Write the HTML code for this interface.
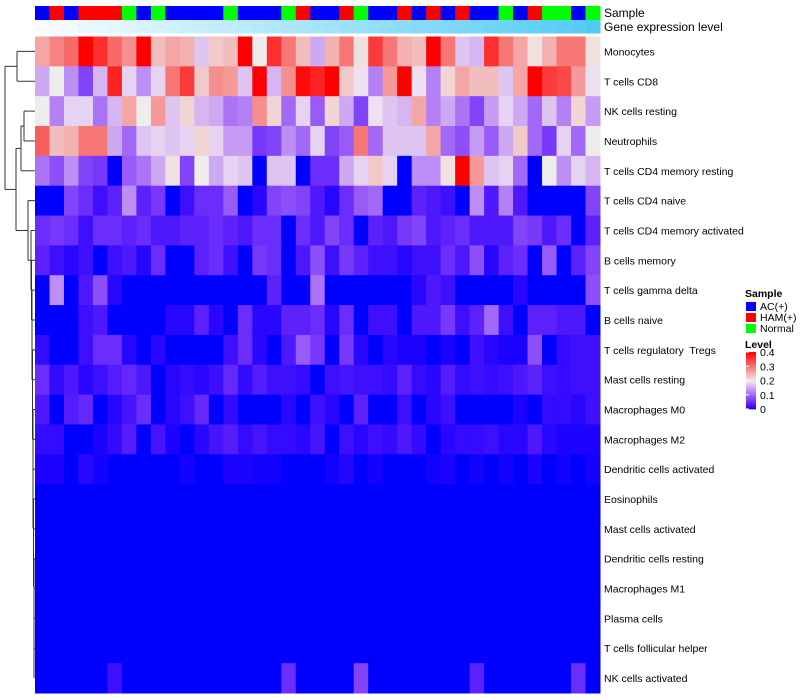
<!DOCTYPE html>
<html><head><meta charset="utf-8"><style>
html,body{margin:0;padding:0;background:#fff;}
svg{display:block;font-family:"Liberation Sans",sans-serif;}
#labels text{white-space:pre;}
</style></head><body>
<svg id="chart" width="800" height="700" viewBox="0 0 800 700" xmlns="http://www.w3.org/2000/svg">
<g id="dendro" stroke="#333" stroke-width="1" fill="none"></g>
<g id="cells"></g>
<g id="annot"></g>
<g id="labels" font-size="10.5" fill="#000"></g>
<text x="604" y="17" font-size="12">Sample</text>
<text x="604" y="31" font-size="12">Gene expression level</text>
<g font-size="10.5">
<text x="745" y="297" font-weight="bold">Sample</text>
<rect x="746" y="302" width="10" height="9" fill="#0000ff"/>
<text x="760" y="310">AC(+)</text>
<rect x="746" y="313" width="10" height="9" fill="#ff0000"/>
<text x="760" y="321">HAM(+)</text>
<rect x="746" y="324" width="10" height="9" fill="#00ff00"/>
<text x="760" y="332">Normal</text>
<text x="745" y="348" font-weight="bold">Level</text>
<g id="cbar"></g>
</g>
</svg>
<script>
const rowNames=["Monocytes","T cells CD8","NK cells resting","Neutrophils","T cells CD4 memory resting","T cells CD4 naive","T cells CD4 memory activated","B cells memory","T cells gamma delta","B cells naive","T cells regulatory  Tregs","Mast cells resting","Macrophages M0","Macrophages M2","Dendritic cells activated","Eosinophils","Mast cells activated","Dendritic cells resting","Macrophages M1","Plasma cells","T cells follicular helper","NK cells activated"];
const sampleGroups=["AC","HAM","AC","HAM","HAM","HAM","N","AC","N","AC","AC","AC","AC","N","AC","AC","AC","N","HAM","AC","AC","HAM","N","AC","AC","HAM","AC","HAM","AC","HAM","AC","AC","N","AC","HAM","N","N","AC","N"];
const geneLevel=[0.00,0.03,0.05,0.08,0.10,0.13,0.15,0.18,0.20,0.23,0.26,0.28,0.31,0.33,0.36,0.38,0.41,0.44,0.46,0.49,0.51,0.54,0.56,0.59,0.62,0.64,0.67,0.69,0.72,0.74,0.77,0.79,0.82,0.85,0.87,0.90,0.92,0.95,1.00];
const r0=[0.26,0.29,0.31,0.4,0.36,0.31,0.28,0.4,0.24,0.26,0.25,0.17,0.23,0.24,0.4,0.2,0.36,0.3,0.24,0.15,0.25,0.3,0.21,0.35,0.3,0.25,0.24,0.4,0.3,0.17,0.16,0.36,0.3,0.26,0.21,0.25,0.3,0.3,0.21];
const r1=[0.15,0.2,0.13,0.07,0.16,0.37,0.18,0.13,0.18,0.3,0.35,0.23,0.28,0.27,0.17,0.4,0.16,0.28,0.39,0.37,0.4,0.23,0.19,0.12,0.27,0.4,0.19,0.12,0.22,0.26,0.24,0.24,0.17,0.26,0.4,0.35,0.34,0.27,0.19];
const r2=[0.2,0.12,0.18,0.18,0.11,0.16,0.26,0.2,0.27,0.17,0.22,0.16,0.15,0.11,0.12,0.28,0.22,0.1,0.18,0.09,0.22,0.15,0.07,0.19,0.17,0.16,0.26,0.12,0.15,0.11,0.07,0.14,0.18,0.15,0.1,0.17,0.12,0.22,0.14];
const r3=[0.32,0.24,0.25,0.3,0.3,0.15,0.1,0.17,0.18,0.17,0.18,0.22,0.18,0.14,0.14,0.06,0.07,0.13,0.1,0.18,0.07,0.09,0.3,0.1,0.17,0.17,0.17,0.26,0.1,0.08,0.14,0.09,0.15,0.23,0.1,0.06,0.18,0.1,0.2];
const r4=[0.11,0.08,0.13,0.07,0.06,0,0.09,0.11,0.15,0.21,0.07,0.2,0.15,0.18,0.17,0,0.17,0.17,0,0.05,0.05,0.15,0.18,0.23,0.18,0,0.13,0.13,0.21,0.4,0.27,0.17,0.18,0.1,0,0.2,0.13,0.18,0.16];
const r5=[0,0,0.07,0.05,0.02,0.04,0.13,0.04,0.06,0,0.02,0.05,0.05,0.09,0,0.01,0.07,0.08,0.07,0.03,0.01,0.05,0.09,0.1,0,0,0.04,0.03,0.02,0,0.13,0.03,0.12,0.03,0,0,0,0,0.07];
const r6=[0.05,0.06,0.05,0.02,0.05,0.05,0.04,0.05,0.03,0.03,0.04,0.04,0.05,0.04,0.03,0.05,0.05,0,0.05,0.03,0.07,0.05,0,0.04,0.03,0.06,0.07,0.03,0.04,0.05,0.03,0.03,0.03,0.07,0.06,0.03,0.05,0,0.04];
const r7=[0.04,0.02,0.01,0.02,0,0.02,0.03,0.01,0.05,0,0,0.04,0.05,0.02,0,0.06,0.05,0,0.03,0.08,0.02,0.06,0.04,0.02,0.02,0.01,0.02,0.02,0.05,0.03,0.08,0.01,0.04,0.05,0,0.09,0,0.04,0.07];
const r8=[0,0.13,0,0.03,0.08,0.01,0,0,0,0,0,0,0,0,0,0,0.04,0,0,0.11,0,0,0,0,0,0,0.01,0.03,0.02,0,0,0,0,0.01,0,0,0,0,0.08];
const r9=[0,0,0,0.02,0.03,0,0,0,0,0.01,0.01,0.04,0.01,0,0.05,0.01,0.01,0.04,0.04,0.05,0.01,0.05,0,0.02,0.02,0,0.03,0.03,0.06,0.02,0.04,0.1,0.02,0,0.04,0.04,0.03,0.03,0];
const r10=[0.015,0,0,0.02,0.05,0.05,0.01,0,0.01,0,0,0,0,0.02,0.05,0.01,0,0.03,0.09,0.06,0,0.06,0.01,0,0.01,0.005,0.005,0,0.005,0,0.02,0.01,0.005,0.005,0.08,0,0.015,0.02,0.02];
const r11=[0.05,0.015,0.03,0.01,0.02,0.035,0.045,0.03,0,0.01,0.015,0.01,0.02,0.045,0.015,0.035,0.02,0.02,0.015,0,0.02,0.025,0.02,0.02,0.015,0.04,0.015,0.01,0.035,0.015,0.02,0.015,0.02,0.03,0.04,0.02,0.015,0.02,0.02];
const r12=[0.03,0,0.035,0.045,0,0.01,0.025,0.05,0,0.01,0.02,0.045,0,0.015,0,0,0,0.01,0,0.02,0.01,0,0.04,0,0,0.02,0,0.01,0.02,0,0,0,0,0.005,0,0.015,0.015,0.01,0.02];
const r13=[0.015,0.015,0,0,0.005,0.015,0.035,0,0.025,0.005,0,0.01,0.025,0.035,0.015,0.025,0.015,0.015,0.01,0.025,0,0.02,0.01,0.02,0.015,0.03,0.015,0,0.01,0.015,0.015,0.02,0.01,0.01,0.03,0.01,0.005,0.005,0.005];
const r14=[0.005,0.005,0,0.01,0.003,0,0,0,0,0,0.003,0,0,0.005,0.005,0.003,0.003,0,0,0,0.003,0.008,0,0.003,0,0,0,0.003,0.005,0,0.003,0,0.003,0,0.005,0,0.003,0,0.003];
const r15=[0,0,0,0,0,0,0,0,0,0,0,0,0,0,0,0,0,0,0,0,0,0,0,0,0,0,0,0,0,0,0,0,0,0,0,0,0,0,0];
const r16=[0,0,0,0,0,0,0,0,0,0,0,0,0,0,0,0,0,0,0,0,0,0,0,0,0,0,0,0,0,0,0,0,0,0,0,0,0,0,0];
const r17=[0,0,0,0,0,0,0,0,0,0,0,0,0,0,0,0,0,0,0,0,0,0,0,0,0,0,0,0,0,0,0,0,0,0,0,0,0,0,0];
const r18=[0,0,0,0,0,0,0,0,0,0,0,0,0,0,0,0,0,0,0,0,0,0,0,0,0,0,0,0,0,0,0,0,0,0,0,0,0,0,0];
const r19=[0,0,0,0,0,0,0,0,0,0,0,0,0,0,0,0,0,0,0,0,0,0,0,0,0,0,0,0,0,0,0,0,0,0,0,0,0,0,0];
const r20=[0,0,0,0,0,0,0,0,0,0,0,0,0,0,0,0,0,0,0,0,0,0,0,0,0,0,0,0,0,0,0,0,0,0,0,0,0,0,0];
const r21=[0,0,0,0,0,0.02,0,0,0,0,0,0,0,0,0,0,0,0.05,0,0,0,0,0.07,0,0,0,0,0,0,0,0.04,0,0,0,0,0,0,0.05,0];
const levelTicks=[0,0.1,0.2,0.3,0.4];
const values=[r0,r1,r2,r3,r4,r5,r6,r7,r8,r9,r10,r11,r12,r13,r14,r15,r16,r17,r18,r19,r20,r21];

const NS="http://www.w3.org/2000/svg";
const X0=35,X1=600,Y0=36.5,Y1=693;
const nC=sampleGroups.length,nR=rowNames.length;
const cw=(X1-X0)/nC,rh=(Y1-Y0)/nR;
const xPos=i=>X0+i*cw;
const yPos=j=>Y0+j*rh;
function col(v){
  v=Math.max(0,Math.min(0.4,v));
  let r,g,b;
  if(v<0.2){const t=v/0.2;r=245*Math.pow(t,0.6);g=238*Math.pow(t,1.2);b=255-16*t;}
  else{const t=(v-0.2)/0.2;r=239+16*t;g=236*(1-t);b=236*(1-t);}
  return `rgb(${Math.round(r)},${Math.round(g)},${Math.round(b)})`;
}
function mk(tag,attrs,parent){const e=document.createElementNS(NS,tag);for(const k in attrs)e.setAttribute(k,attrs[k]);parent.appendChild(e);return e;}
const cells=document.getElementById('cells');
values.forEach((row,j)=>row.forEach((v,i)=>{
  const r=mk('rect',{x:xPos(i).toFixed(2),y:yPos(j).toFixed(2),width:(cw+0.5).toFixed(2),height:(rh+0.5).toFixed(2),fill:col(v)},cells);
  
  
}));
const annot=document.getElementById('annot');
const gc={AC:"#0000ff",HAM:"#ff0000",N:"#00ff00"};
sampleGroups.forEach((s,i)=>{
  const r=mk('rect',{x:xPos(i).toFixed(2),y:6,width:(cw+0.5).toFixed(2),height:14,fill:gc[s]},annot);
  
  
});
geneLevel.forEach((v,i)=>{
  const c=`rgb(${Math.round(248-170*v)},${Math.round(252-50*v)},${Math.round(255-10*v)})`;
  const r=mk('rect',{x:xPos(i).toFixed(2),y:20,width:(cw+0.5).toFixed(2),height:13.5,fill:c},annot);
  
  
});
const labels=document.getElementById('labels');
rowNames.forEach((n,j)=>{
  const t=mk('text',{x:604,y:(yPos(j)+rh/2+4).toFixed(1)},labels);
  t.textContent=n;
  
  
});
const cb=document.getElementById('cbar');
const cbY0=409,cbY1=352;
const cbPos=v=>cbY0+(cbY1-cbY0)*(v/0.4);
for(let k=0;k<40;k++){
  const v=0.4*k/40;
  const r=mk('rect',{x:746,y:(cbPos(v+0.01)).toFixed(2),width:10,height:((cbY0-cbY1)/40+0.4).toFixed(2),fill:col(v+0.005)},cb);
  
  
}
levelTicks.forEach(v=>{
  const y=cbPos(v);
  const l=mk('line',{x1:746,x2:749,y1:y,y2:y,stroke:"#fff"},cb);
  
  
  const t=mk('text',{x:760,y:(y+4).toFixed(1),'font-size':'10.5'},cb);
  t.textContent=String(v);
  
  
});
const d=document.getElementById('dendro');
const yc=j=>yPos(j)+rh/2;
function seg(x1,y1,x2,y2){const l=mk('line',{x1,y1,x2,y2},d);}
function node(x,ya,xa,yb,xb){seg(x,ya,x,yb);seg(x,ya,xa,ya);seg(x,yb,xb,yb);}
let curY=yc(21),curX=34;
const lx=[34,34,34,34,33.5,33.5,33,33,33,32.5,32.5,32,32,31.5,31];
for(let j=20;j>=6;j--){const x=lx[20-j];node(x,yc(j),35,curY,curX);curY=(yc(j)+curY)/2;curX=x;}
const dY=curY,dX=curX;
node(28,yc(5),35,dY,dX);const D=(yc(5)+dY)/2;
node(24,yc(2),35,yc(3),35);const n23=(yc(2)+yc(3))/2;
node(21,n23,24,yc(4),35);const C=(n23+yc(4))/2;
node(16,C,21,D,28);const B=(C+D)/2;
node(17,yc(0),35,yc(1),35);const A=(yc(0)+yc(1))/2;
node(5,A,17,B,16);
</script>
</body></html>
